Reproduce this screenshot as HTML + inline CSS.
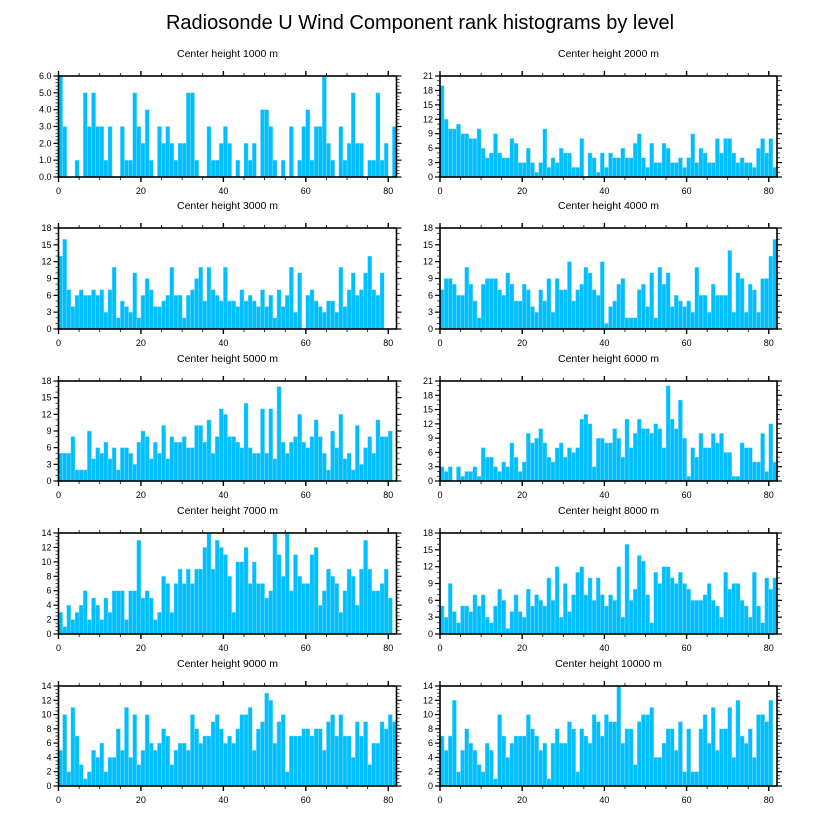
<!DOCTYPE html>
<html><head><meta charset="utf-8"><style>
html,body{margin:0;padding:0;background:#fff;}
svg{display:block;font-family:"Liberation Sans",sans-serif;}
</style></head><body>
<svg id="chart" width="818" height="824" viewBox="0 0 818 824">
<text x="420" y="29" font-size="20" text-anchor="middle" fill="#000">Radiosonde U Wind Component rank histograms by level</text>
</svg>
<script>
const levels = ["1000","2000","3000","4000","5000","6000","7000","8000","9000","10000"];
const yMaxes = [6,21,18,18,18,21,14,18,14,14];
const ySteps = [1,3,3,3,3,3,2,3,2,2];
const xTicks = [0,20,40,60,80];
const c1000 = [6,3,0,0,1,0,5,3,5,3,3,1,3,0,0,3,1,1,5,3,2,4,1,0,3,2,3,2,1,2,2,5,5,1,0,0,3,1,1,2,3,2,0,1,0,2,1,2,0,4,4,3,1,0,1,0,3,0,1,3,4,1,3,3,6,2,1,0,3,1,2,5,2,2,0,1,1,5,1,2,0,3];
const c2000 = [19,12,10,10,11,9,9,8,8,10,6,4,5,9,5,4,4,8,7,3,3,6,3,1,3,10,2,4,3,6,5,5,2,2,8,0,5,4,1,5,2,5,4,4,6,4,4,7,9,4,2,7,3,3,7,6,3,3,4,2,4,9,3,6,5,3,3,8,5,8,8,5,3,4,3,3,2,6,8,5,8,2];
const c3000 = [13,16,7,4,6,7,6,6,7,6,7,3,7,11,2,5,4,3,10,2,6,9,7,4,4,5,6,11,6,6,2,6,7,9,11,5,11,7,6,5,11,5,5,4,7,5,6,5,4,7,4,6,2,7,4,6,11,3,10,0,6,7,5,4,3,5,5,3,11,4,7,10,6,7,10,13,7,6,10];
const c4000 = [7,9,9,8,6,6,11,8,5,2,8,9,9,9,7,6,10,8,5,5,8,7,4,3,7,5,9,3,9,7,7,12,5,7,8,11,10,7,6,12,1,4,5,8,9,2,2,2,7,8,4,10,2,11,8,10,4,6,5,4,5,3,11,6,6,3,8,6,6,6,14,3,10,9,3,8,7,3,9,9,13,16];
const c5000 = [5,5,5,8,2,2,2,9,4,6,5,7,4,6,2,6,6,5,3,7,9,8,4,7,5,10,4,8,7,7,8,6,6,10,10,7,11,5,8,13,12,8,8,7,6,14,6,5,5,13,5,13,4,17,7,5,7,8,12,7,6,8,11,8,5,2,9,6,12,4,5,2,10,3,6,8,5,11,8,8,9];
const c6000 = [3,2,3,0,3,1,2,2,3,1,7,5,5,3,2,4,3,8,5,2,4,10,8,9,11,8,5,4,7,8,5,7,6,7,13,14,12,3,9,9,8,8,11,9,5,13,7,10,13,11,11,10,12,11,7,20,13,11,17,9,1,7,5,10,7,7,10,8,10,6,6,1,1,8,7,7,4,4,10,2,12,4];
const c7000 = [3,1,4,2,3,4,6,2,5,4,2,5,3,6,6,6,2,6,6,13,5,6,5,2,3,8,7,3,7,9,7,9,7,9,9,12,14,9,13,12,11,8,3,10,10,12,7,10,7,7,5,6,14,11,8,14,6,11,8,7,7,11,12,4,6,9,8,7,3,6,9,8,4,9,13,9,6,6,7,9,5];
const c8000 = [5,3,9,4,2,5,5,4,7,5,7,3,2,5,8,6,1,4,7,4,3,8,5,7,6,5,10,6,12,3,9,4,7,11,12,7,10,6,10,7,5,7,6,12,3,16,6,8,14,13,7,2,11,9,12,12,10,9,11,9,8,6,6,6,7,9,6,5,3,11,8,9,9,6,5,3,11,5,2,10,8,10];
const c9000 = [5,10,2,11,7,3,1,2,5,4,6,2,4,4,8,5,11,4,10,3,5,10,6,5,6,8,7,3,5,6,6,5,10,8,6,7,7,9,10,8,6,7,6,8,10,10,11,5,8,9,13,12,6,9,10,2,7,7,7,8,8,7,8,8,5,9,10,7,10,7,7,4,9,7,9,3,6,6,9,8,10,9];
const c10000 = [7,5,7,12,2,5,8,6,5,3,2,6,5,1,10,7,4,6,7,7,7,10,8,7,5,6,1,6,8,6,6,9,8,2,8,7,6,10,9,7,10,9,9,14,6,8,8,3,9,10,10,11,4,4,6,8,8,5,9,2,8,2,2,8,10,6,11,5,8,8,11,4,12,7,6,8,4,10,10,9,12];
const counts = [c1000,c2000,c3000,c4000,c5000,c6000,c7000,c8000,c9000,c10000];

const NS = "http://www.w3.org/2000/svg";
const svg = document.getElementById("chart");
function mk(tag, attrs, parent){const e=document.createElementNS(NS,tag);for(const k in attrs)e.setAttribute(k,attrs[k]);(parent||svg).appendChild(e);return e;}
const colX = [[58.5,396.5],[440,777]];
const rowY = [[76,177],[228,329],[381,481],[533,634],[686,786]];
const XMAX = 82;

for(let p=0;p<10;p++){
  const col=p%2, row=Math.floor(p/2);
  const [L,R]=colX[col], [T,B]=rowY[row];
  const xs = v => L + (v/XMAX)*(R-L);
  const ys = v => B - (v/yMaxes[p])*(B-T);
  const g = mk("g",{});
  
  
  const t = mk("text",{x:(L+R)/2,y:T-19,"font-size":"10.5","text-anchor":"middle",fill:"#000"},g);
  t.textContent = "Center height "+levels[p]+" m";
  
  
  const data = counts[p];
  for(let i=0;i<data.length && i<XMAX;i++){
    if(data[i]<=0) continue;
    const r = mk("rect",{x:xs(i),y:ys(data[i]),width:xs(i+1)-xs(i),height:B-ys(data[i]),fill:"#00bfff",stroke:"#8fe0ff","stroke-width":"0.4"},g);
    
    
  }
  // x ticks
  for(let v=0;v<=XMAX;v+=5){
    const major = v%20===0;
    const len = major?5:3;
    mk("line",{x1:xs(v),x2:xs(v),y1:B,y2:B+len,stroke:"#000","stroke-width":major?1.4:0.8},g);
    mk("line",{x1:xs(v),x2:xs(v),y1:T,y2:T-len,stroke:"#000","stroke-width":major?1.4:0.8},g);
  }
  xTicks.forEach(v=>{
    const tx = mk("text",{x:xs(v),y:B+17,"font-size":"9","text-anchor":"middle",fill:"#000"},g);
    tx.textContent = v;
    
    
  });
  // y ticks
  const st = ySteps[p], ym = yMaxes[p], minor = st/ (st===3?3:(st===2?4:5));
  for(let v=0; v<=ym+1e-9; v+=minor){
    const isMajor = Math.abs(v/st-Math.round(v/st))<1e-6;
    const len = isMajor?5:3;
    mk("line",{x1:L,x2:L-len,y1:ys(v),y2:ys(v),stroke:"#000","stroke-width":isMajor?1.2:0.7},g);
    mk("line",{x1:R,x2:R+len,y1:ys(v),y2:ys(v),stroke:"#000","stroke-width":isMajor?1.2:0.7},g);
  }
  for(let v=0; v<=ym; v+=st){
    const ty = mk("text",{x:L-7,y:ys(v)+3,"font-size":"9","text-anchor":"end",fill:"#000"},g);
    ty.textContent = ym===6 ? v.toFixed(1) : String(v);
    
    
  }
  const fr = mk("rect",{x:L,y:T,width:R-L,height:B-T,fill:"none",stroke:"#000","stroke-width":"1.6"},g);
  
  
}
</script>
</body></html>
